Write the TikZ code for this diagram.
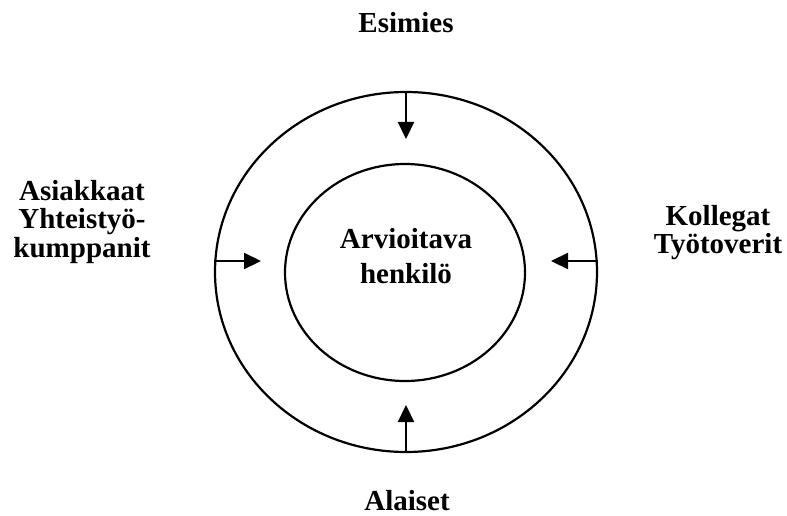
\documentclass[tikz,border=0pt]{standalone}
\usepackage{fontspec}
\setmainfont{Liberation Serif}
\usetikzlibrary{shapes.geometric, arrows.meta, positioning}
\tikzset{
  ring/.style={
    ellipse, draw=black, line width=2.2pt, inner sep=0pt
  },
  rolelabel/.style={
    font=\fontsize{29}{28.5}\selectfont\bfseries,
    align=center, inner sep=0pt
  },
  personlabel/.style={rolelabel, font=\fontsize{29}{35}\selectfont\bfseries},
  feedarrow/.style={-{Triangle[length=17pt, width=16pt]}, line width=2.2pt}
}

\begin{document}
\begin{tikzpicture}[x=1pt, y=-1pt]
  \useasboundingbox (0,0) rectangle (787,516);

  % Draw rings
  \node[ring, minimum width=382pt, minimum height=360pt] (outer) at (406,272) {};
  \node[ring, minimum width=240pt, minimum height=217pt] (inner) at (405,272.5) {};
  \node[personlabel] (person) at (406,255.7) {Arvioitava\\henkilö};

  % Draw labels round the rings
  \node[rolelabel] (boss) at (406,23) {Esimies};
  \node[rolelabel] (clients) at (82,222) {Asiakkaat\\Yhteistyö-\\kumppanit};
  \node[rolelabel] (peers) at (718,232.6) {Kollegat\\Työtoverit};
  \node[rolelabel] (staff) at (407,501) {Alaiset};

  % Draw arrows from the outer ring
  \coordinate (bosstip) at (406,139);
  \coordinate (clienttip) at (261,261);
  \coordinate (peertip) at (551,261);
  \coordinate (stafftip) at (406,405);
  \draw[feedarrow] (outer.north) -- (bosstip);
  \draw[feedarrow] (clienttip -| outer.west) -- (clienttip);
  \draw[feedarrow] (peertip -| outer.east) -- (peertip);
  \draw[feedarrow] (outer.south) -- (stafftip);
\end{tikzpicture}
\end{document}
